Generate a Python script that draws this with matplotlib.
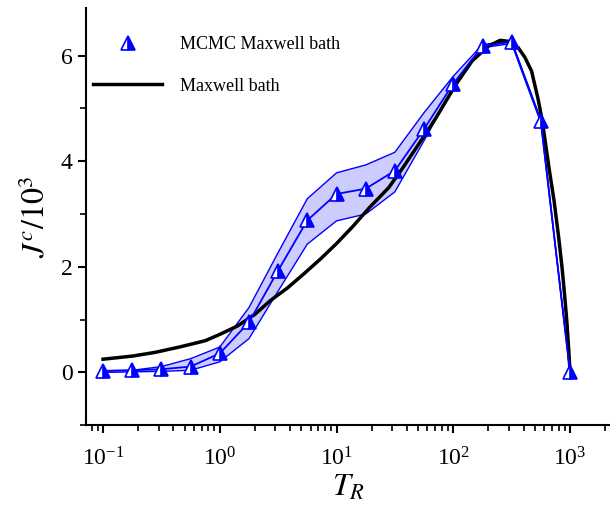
import numpy as np
import matplotlib
matplotlib.use('Agg')
from matplotlib import pyplot as plt
from matplotlib.ticker import MultipleLocator, LogLocator, NullFormatter

plt.rcParams['font.family'] = ['Liberation Serif', 'DejaVu Serif']
plt.rcParams['mathtext.fontset'] = 'stix'

# MCMC points (quarter decades in T_R)
t_mc = [0.1, 0.178, 0.316, 0.562, 1.0, 1.78, 3.16, 5.62, 10.0, 17.8, 31.6,
        56.2, 100.0, 178.0, 316.0, 562.0, 1000.0]
j_mc = [0.03, 0.04, 0.06, 0.11, 0.36, 0.95, 1.93, 2.88, 3.38, 3.48, 3.82,
        4.61, 5.47, 6.18, 6.26, 4.76, 0.0]
j_up = [0.03, 0.04, 0.11, 0.26, 0.48, 1.23, 2.27, 3.29, 3.78, 3.93, 4.17,
        4.92, 5.61, 6.21, 6.28, 4.79, 0.02]
j_lo = [0.0, 0.01, 0.02, 0.04, 0.2, 0.64, 1.54, 2.43, 2.87, 3.0, 3.42,
        4.39, 5.39, 6.15, 6.23, 4.73, 0.0]

# Maxwell bath curve
t_mx = [0.1, 0.18, 0.28, 0.45, 0.75, 1.0, 1.42, 2.0, 2.71, 3.8, 5.27, 7.3,
        10.0, 14.0, 19.1, 28.0, 37.1, 58.0, 71.0, 105.0, 145.0, 200.0,
        252.0, 300.0, 360.0, 410.0, 468.0, 530.0, 569.0, 600.0, 660.0,
        730.0, 800.0, 855.0, 900.0, 940.0, 970.0, 1000.0]
j_mx = [0.25, 0.31, 0.38, 0.48, 0.6, 0.72, 0.88, 1.1, 1.36, 1.6, 1.87, 2.15,
        2.44, 2.78, 3.12, 3.5, 3.88, 4.52, 4.82, 5.45, 5.9, 6.18,
        6.29, 6.27, 6.15, 5.97, 5.71, 5.2, 4.85, 4.52, 3.88,
        3.25, 2.55, 1.98, 1.45, 0.95, 0.5, 0.02]

fig = plt.figure(figsize=(6.1, 5.08), dpi=100)
ax = fig.add_axes([0.141, 0.163, 0.859, 0.821])

ax.fill_between(t_mc, j_lo, j_up, facecolor='#ccccff', edgecolor='none')
ax.plot(t_mc, j_up, color='blue', lw=1.0)
ax.plot(t_mc, j_lo, color='blue', lw=1.0)
ax.plot(t_mx, j_mx, color='black', lw=2.5, label='Maxwell bath', zorder=4)
ax.plot(t_mc, j_mc, color='blue', lw=1.3, zorder=5)
ax.plot(t_mc, j_mc, ls='none', marker='^', ms=9.5, fillstyle='right',
        markerfacecolor='blue', markerfacecoloralt='white',
        markeredgecolor='blue', markeredgewidth=1.2, zorder=6,
        label='MCMC Maxwell bath')

ax.set_xscale('log')
ax.set_xlim(0.0715, 2200)
ax.set_ylim(-1, 6.9)
ax.yaxis.set_major_locator(MultipleLocator(2))
ax.yaxis.set_minor_locator(MultipleLocator(1))
ax.xaxis.set_major_locator(LogLocator(base=10, numticks=10))
ax.xaxis.set_minor_locator(LogLocator(base=10, subs=np.arange(2, 10), numticks=20))
ax.xaxis.set_minor_formatter(NullFormatter())

for s in ['top', 'right']:
    ax.spines[s].set_visible(False)
for s in ['left', 'bottom']:
    ax.spines[s].set_linewidth(1.5)
ax.tick_params(which='major', direction='out', length=6, width=1.5, labelsize=17)
ax.tick_params(which='minor', direction='out', length=4, width=1.2)
ax.tick_params(axis='x', which='major', pad=10)

ax.set_xlabel(r'$T_R$', fontsize=23, labelpad=2)
ax.set_ylabel(r'$J^c/10^3$', fontsize=23, labelpad=7)

h, l = ax.get_legend_handles_labels()
ax.legend(h[::-1], l[::-1], loc='upper left', frameon=False, fontsize=13,
          handlelength=3.8, handletextpad=1.0, labelspacing=1.35,
          borderaxespad=0.0, bbox_to_anchor=(0.0, 0.95))

fig.savefig('out.png', dpi=100)
